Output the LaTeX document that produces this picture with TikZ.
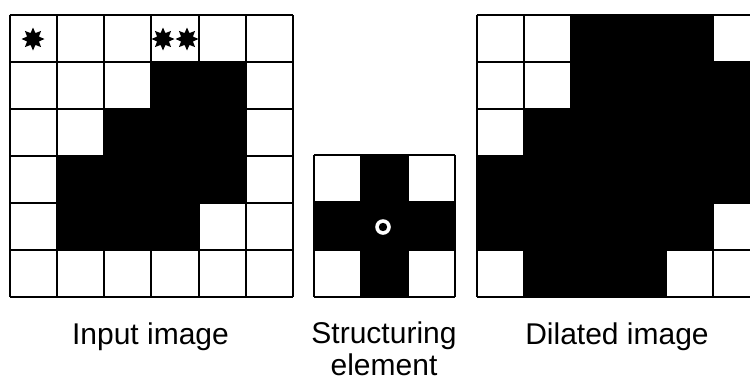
\documentclass[tikz,border=0pt]{standalone}
\usepackage{fontspec}
\setmainfont{Liberation Sans}
\usetikzlibrary{shapes.geometric}
\begin{document}
\begin{tikzpicture}[x=1pt,y=-1pt,
  gridline/.style={line width=2pt,black},
  cellfill/.style={fill=black},
  lbl/.style={font=\fontsize{30}{32}\selectfont,inner sep=0pt,align=center},
  starmark/.style={star,star points=8,star point ratio=1.8,fill=black,minimum size=23pt,inner sep=0pt}]
\useasboundingbox (0,0) rectangle (750,381);
\clip (0,0) rectangle (750,381);
\fill[white] (0,0) rectangle (750,381);
\def\cs{47.3}
% ---- Input image (origin 9.5,15)
\foreach \r/\c in {1/3,1/4,2/2,2/3,2/4,3/1,3/2,3/3,3/4,4/1,4/2,4/3}
  \fill[cellfill] ({9.5+\c*\cs},{15+\r*47}) rectangle ++(\cs,47);
\foreach \i in {0,...,6}{
  \draw[gridline] ({9.5+\i*\cs},15) -- ({9.5+\i*\cs},297);
  \draw[gridline] (9.5,{15+\i*47}) -- (293.3,{15+\i*47});
}
\node[starmark] (s1) at (33,39) {};
\node[starmark] (s2) at (163,39) {};
\node[starmark] (s3) at (187,39) {};
% ---- Structuring element (origin 314,155)
\fill[cellfill] (361,155) rectangle (408,297);
\fill[cellfill] (314,202) rectangle (455,249);
\foreach \i in {0,...,3}{
  \draw[gridline] ({314+\i*47},155) -- ({314+\i*47},297);
  \draw[gridline] (314,{155+\i*47.33}) -- (455,{155+\i*47.33});
}
\fill[white] (383,227) circle (7.8);
\fill[black] (383,227) circle (4.2);
% ---- Dilated image (origin 476.5,15)
\foreach \r/\c in {0/2,0/3,0/4,1/2,1/3,1/4,1/5,2/1,2/2,2/3,2/4,2/5,3/0,3/1,3/2,3/3,3/4,3/5,4/0,4/1,4/2,4/3,4/4,5/1,5/2,5/3}
  \fill[cellfill] ({476.5+\c*\cs},{15+\r*47}) rectangle ++(\cs,47);
\foreach \i in {0,...,6}{
  \draw[gridline] ({476.5+\i*\cs},15) -- ({476.5+\i*\cs},297);
  \draw[gridline] (476.5,{15+\i*47}) -- (760.3,{15+\i*47});
}
% ---- Labels
\node[lbl,anchor=base] (l1) at (150.5,344) {Input image};
\node[lbl,anchor=north] (l2) at (384,321.5) {Structuring\\element};
\node[lbl,anchor=base] (l3) at (617,344) {Dilated image};
\end{tikzpicture}
\end{document}
